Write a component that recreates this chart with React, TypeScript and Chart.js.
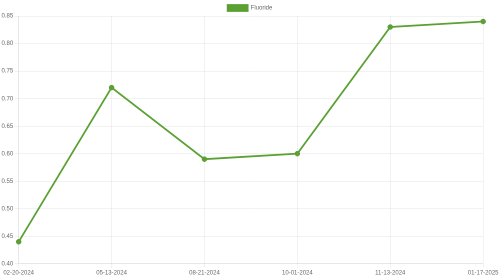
import React, { useEffect, useRef } from "react";
import { Chart, registerables } from "chart.js";

Chart.register(...registerables);

const labels = ["02-20-2024", "05-13-2024", "08-21-2024", "10-01-2024", "11-13-2024", "01-17-2025"];
const fluoride = [0.44, 0.72, 0.59, 0.6, 0.83, 0.84];
const seriesName = "Fluoride";
const green = "rgb(90, 160, 50)";
const fontFam = "Arial, Liberation Sans, sans-serif";

export default function App() {
  const ref = useRef<HTMLCanvasElement>(null);
  useEffect(() => {
    document.body.style.margin = "0";
    const chart = new Chart(ref.current!, {
      type: "line",
      data: {
        labels,
        datasets: [
          {
            label: seriesName,
            data: fluoride,
            borderColor: green,
            backgroundColor: green,
            pointBackgroundColor: green,
            pointBorderColor: green,
            borderWidth: 3.5,
            pointRadius: 5,
            pointBorderWidth: 1,
            tension: 0,
          },
        ],
      },
      options: {
        responsive: false,
        devicePixelRatio: 1,
        animation: false,
        font: { family: fontFam, size: 12 },
        plugins: {
          legend: {
            labels: { color: "#666", font: { family: fontFam, size: 12 } },
          },
          tooltip: { enabled: false },
        },
        scales: {
          x: {
            ticks: { color: "#666", maxRotation: 0, font: { family: fontFam, size: 12 } },
          },
          y: {
            min: 0.4,
            max: 0.85,
            ticks: {
              stepSize: 0.05,
              color: "#666",
              font: { family: fontFam, size: 12 },
              callback: (v: any) => Number(v).toFixed(2),
            },
          },
        },
      },
    });
    return () => chart.destroy();
  }, []);
  return (
    <canvas
      ref={ref}
      width={1000}
      height={556}
      style={{ display: "block", width: "500px", height: "278px" }}
    />
  );
}
